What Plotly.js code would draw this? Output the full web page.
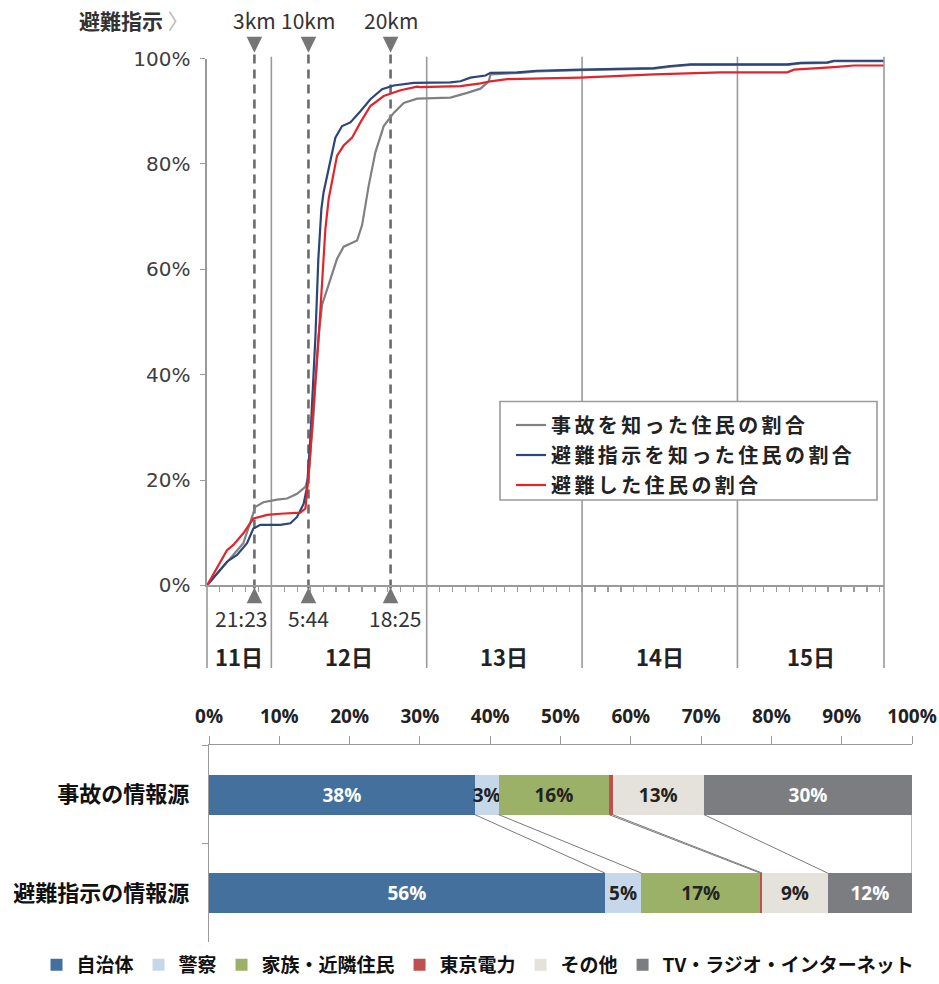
<!DOCTYPE html>
<html><head><meta charset="utf-8">
<script src="https://cdn.plot.ly/plotly-3.0.1.min.js"></script>
<style>
html,body{margin:0;padding:0;background:#fff;}
#chart{width:939px;height:984px;}
g.legend .legendtext{letter-spacing:3.4px;}
g.legend g.scrollbox{clip-path:none !important;}
</style>
</head><body><div id="chart"></div>
<script>
// ---------- top chart data (x = hours since 11日 00:00, y = %) ----------
const accidentHours = [14.06,18.13,19.67,21.02,21.53,22.76,24.88,26.43,27.97,29.26,29.72,30.49,31.26,31.84,34.15,35.17,37.25,38.02,39.04,40.07,41.36,42.90,44.45,46.52,51.67,54.25,56.30,57.59,57.85,62.49,65.07,71.76,83.09,85.67,88.76,103.71,105.76,109.89,110.91,118.64];
const accidentPct   = [0,5.8,8.0,13.0,14.9,15.8,16.3,16.5,17.4,18.7,20.6,31.9,47.0,53.3,62.0,64.3,65.5,68.4,75.9,82.2,87.2,89.7,91.6,92.4,92.6,93.5,94.3,95.7,97.0,97.3,97.6,97.8,98.1,98.5,98.8,98.8,99.1,99.2,99.5,99.5];
const orderHours = [14.06,17.15,18.70,20.24,21.22,22.30,25.39,26.94,27.97,28.99,29.52,30.03,30.49,30.80,31.26,31.73,32.08,32.86,33.89,34.93,36.21,37.76,39.30,41.11,42.90,45.99,51.67,53.21,54.76,57.08,57.85,61.97,65.07,71.76,83.09,85.67,88.76,103.71,105.76,109.89,110.91,118.64];
const orderPct   = [0,4.5,5.8,8.0,10.8,11.5,11.5,11.8,13.0,15.5,18.7,28.0,39.4,47.0,62.0,71.5,74.7,79.0,85.0,87.2,87.9,90.0,92.3,94.2,94.9,95.4,95.5,95.7,96.4,96.8,97.3,97.4,97.7,97.9,98.2,98.6,98.9,98.9,99.2,99.3,99.6,99.6];
const evacHours = [14.06,17.15,18.13,19.67,21.22,23.34,25.39,28.48,29.26,29.87,30.49,31.31,31.88,32.35,32.86,34.15,35.17,36.47,37.76,39.30,41.36,43.94,46.52,47.03,53.21,56.30,57.85,60.43,71.76,83.09,93.40,103.71,104.73,107.82,110.91,114.00,118.64];
const evacPct   = [0,6.7,7.7,9.9,12.7,13.4,13.6,13.8,14.6,22.5,33.8,47.0,58.3,67.7,73.4,81.6,83.5,85.0,87.9,91.0,92.9,94.0,94.7,94.6,94.8,95.3,95.7,96.1,96.4,97.0,97.4,97.4,97.9,98.1,98.4,98.7,98.7];
const seriesNames = ['事故を知った住民の割合','避難指示を知った住民の割合','避難した住民の割合'];
const orderTimes = [21+23/60, 24+5+44/60, 24+18+25/60];
const orderZones = ['3km','10km','20km'];
const orderTimeLabels = ['21:23','5:44','18:25'];
const dayLabels = ['11日','12日','13日','14日','15日'];
const dayStarts = [0,24,48,72,96];
const timeRange = [14.06,118.64];
const yTicks = [0,20,40,60,80,100];

// ---------- bottom chart data ----------
const sourceCategories = ['事故の情報源','避難指示の情報源'];
const sourceNames = ['自治体','警察','家族・近隣住民','東京電力','その他','TV・ラジオ・インターネット'];
const accidentShares = [37.8,3.4,15.7,0.5,13.0,29.6];
const orderShares    = [56.3,5.2,16.9,0.3,9.3,12.0];
const shareTicks = [0,10,20,30,40,50,60,70,80,90,100];

// ---------- styles ----------
const W = 939, H = 984;
const px = v => v / W, py = v => 1 - v / H;
const lineColors = ['#808080','#2b4677','#e4232a'];
const barColors = ['#44709d','#c6d7ea','#9bb168','#bf5050','#e4e2da','#7c7d81'];
const barTextColors = ['#ffffff','#222222','#222222','#222222','#222222','#ffffff'];
const showBarText = [true,true,true,false,true,true];
const timeLabelShift = [-13, 0, 4];
const JP = 'Noto Sans CJK JP';
const barW = 0.406;

const traces = [];
const lineX = [accidentHours, orderHours, evacHours];
const lineY = [accidentPct, orderPct, evacPct];
for (let i = 0; i < 3; i++) {
  traces.push({
    type:'scatter', mode:'lines', x: lineX[i], y: lineY[i], name: seriesNames[i],
    line:{color: lineColors[i], width: 2.2}, cliponaxis:false,
    xaxis:'x', yaxis:'y', legend:'legend', legendgroup:'g'+i, hoverinfo:'skip'
  });
}
for (let i = 0; i < sourceNames.length; i++) {
  traces.push({
    type:'bar', orientation:'h', name: sourceNames[i],
    x:[accidentShares[i], orderShares[i]], y: sourceCategories,
    xaxis:'x2', yaxis:'y2', legend:'legend2', width: barW,
    marker:{color: barColors[i], line:{width:0}},
    texttemplate: showBarText[i] ? '%{x:.0f}%' : '',
    textposition:'inside', insidetextanchor:'middle', textangle:0, constraintext:'none',
    textfont:{family:'Open Sans', size:19, weight:'bold', color: barTextColors[i]},
    hoverinfo:'skip'
  });
}

const shapes = [];
const annotations = [];
const lineTop = py(57), lineBot = py(672);
// day boundaries
dayStarts.slice(1).forEach(d => shapes.push({type:'line', xref:'x', yref:'paper', x0:d, x1:d, y0:lineBot, y1:lineTop, line:{color:'#9a9a9a', width:1.6}, layer:'below'}));
// left/right frame extensions
[px(207), px(884)].forEach(xp => shapes.push({type:'line', xref:'paper', yref:'paper', x0:xp, x1:xp, y0:lineBot, y1: xp < 0.5 ? py(589) : lineTop, line:{color:'#9a9a9a', width:1.6}}));
// evacuation order dashed lines and triangles
const triHalf = 1.2;
orderTimes.forEach((t, i) => {
  shapes.push({type:'line', xref:'x', yref:'paper', x0:t, x1:t, y0:py(592), y1:py(53), line:{color:'#6b6b6b', width:2.6, dash:'9px,6px'}, layer:'below'});
  shapes.push({type:'path', xref:'x', yref:'paper', path:`M ${t-triHalf},${py(37)} L ${t+triHalf},${py(37)} L ${t},${py(53)} Z`, fillcolor:'#767676', line:{width:0}});
  shapes.push({type:'path', xref:'x', yref:'paper', path:`M ${t-triHalf},${py(607)} L ${t+triHalf},${py(607)} L ${t},${py(591)} Z`, fillcolor:'#767676', line:{width:0}});
  annotations.push({xref:'x', yref:'paper', x:t, y:py(20), text: orderZones[i], showarrow:false, xanchor:'center', yanchor:'middle', font:{family:JP, size:21, color:'#333'}});
  annotations.push({xref:'x', yref:'paper', x:t, y:py(622), xshift: timeLabelShift[i], text: orderTimeLabels[i], showarrow:false, xanchor:'center', yanchor:'middle', font:{family:JP, size:21, color:'#333'}});
});
// day labels
dayLabels.forEach((lab, i) => {
  const a = Math.max(dayStarts[i], timeRange[0]);
  const b = Math.min(dayStarts[i] + 24, timeRange[1]);
  annotations.push({xref:'x', yref:'paper', x:(a+b)/2, y:py(660), text: lab, showarrow:false, xanchor:'center', yanchor:'middle', font:{family:JP, size:22, weight:'bold', color:'#222'}});
});
// header
annotations.push({xref:'paper', yref:'paper', x:px(77), y:py(20), text:'避難指示 <span style="color:#b8b8b8;font-weight:normal">〉</span>', showarrow:false, xanchor:'left', yanchor:'middle', font:{family:JP, size:21, weight:'bold', color:'#333'}});
// legend frame
shapes.push({type:'rect', xref:'paper', yref:'paper', x0:px(500), x1:px(877), y0:py(503), y1:py(404), fillcolor:'#ffffff', line:{color:'#9a9a9a', width:1.6}, layer:'above'});
// bottom: series connector lines
let c1 = 0, c2 = 0;
for (let i = 0; i < accidentShares.length; i++) {
  c1 += accidentShares[i]; c2 += orderShares[i];
  shapes.push({type:'line', xref:'x2', yref:'y2', x0:c1, x1:c2, y0: barW/2, y1: 1 - barW/2, line:{color:'#7a7a7a', width:1}});
}

const layout = {
  width:W, height:H, autosize:false,
  margin:{l:0, r:0, t:0, b:0, pad:0},
  paper_bgcolor:'#ffffff', plot_bgcolor:'#ffffff',
  font:{family:JP, color:'#222'},
  xaxis:{domain:[px(207), px(884)], range: timeRange, anchor:'y', showgrid:false, zeroline:false,
    showline:true, linecolor:'#9a9a9a', linewidth:1.6, tickmode:'linear', tick0:0, dtick:2,
    ticks:'outside', ticklen:5, tickcolor:'#9a9a9a', tickwidth:1.2, showticklabels:false},
  yaxis:{domain:[py(589), py(59)], range:[0,100], anchor:'x', showgrid:false, zeroline:false,
    showline:true, linecolor:'#9a9a9a', linewidth:1.6, tickmode:'array', tickvals: yTicks,
    ticktext: yTicks.map(v => v + '%'), ticks:'outside', ticklen:5, tickcolor:'#9a9a9a',
    tickfont:{family:'DejaVu Sans', size:20, color:'#404040'}, ticklabelstandoff:6},
  xaxis2:{domain:[px(209), px(912)], range:[0,100], anchor:'y2', side:'top', showgrid:false, zeroline:false,
    showline:true, linecolor:'#9a9a9a', linewidth:1.4, tickmode:'array', tickvals: shareTicks,
    ticktext: shareTicks.map(v => v + '%'), ticks:'outside', ticklen:8, tickcolor:'#9a9a9a',
    tickfont:{family:'Open Sans', size:19, weight:'bold', color:'#222'}, ticklabelstandoff:5},
  yaxis2:{domain:[py(948), py(750)], type:'category', categoryorder:'array', categoryarray: sourceCategories,
    range:[1.5,-0.5], anchor:'x2', showgrid:false, zeroline:false, showline:true, linecolor:'#9a9a9a', linewidth:1.4,
    ticks:'outside', tickson:'boundaries', ticklen:6, tickcolor:'#9a9a9a',
    tickfont:{family:JP, size:22, weight:'bold', color:'#111'}, ticklabelstandoff:14},
  barmode:'stack', bargap:0,
  showlegend:true,
  legend:{x:px(511), y:py(408), xanchor:'left', yanchor:'top', bgcolor:'rgba(0,0,0,0)', borderwidth:0,
    traceorder:'grouped', tracegroupgap:1, itemwidth:30,
    font:{family:JP, size:20, weight:'bold', color:'#222'}},
  legend2:{orientation:'h', traceorder:'normal', x:px(478), y:py(971), xanchor:'center', yanchor:'middle', bgcolor:'rgba(0,0,0,0)',
    itemwidth:30, font:{family:JP, size:19, weight:'bold', color:'#111'}},
  shapes: shapes, annotations: annotations
};

Plotly.newPlot('chart', traces, layout, {staticPlot:true, displayModeBar:false});
</script>
</body></html>
